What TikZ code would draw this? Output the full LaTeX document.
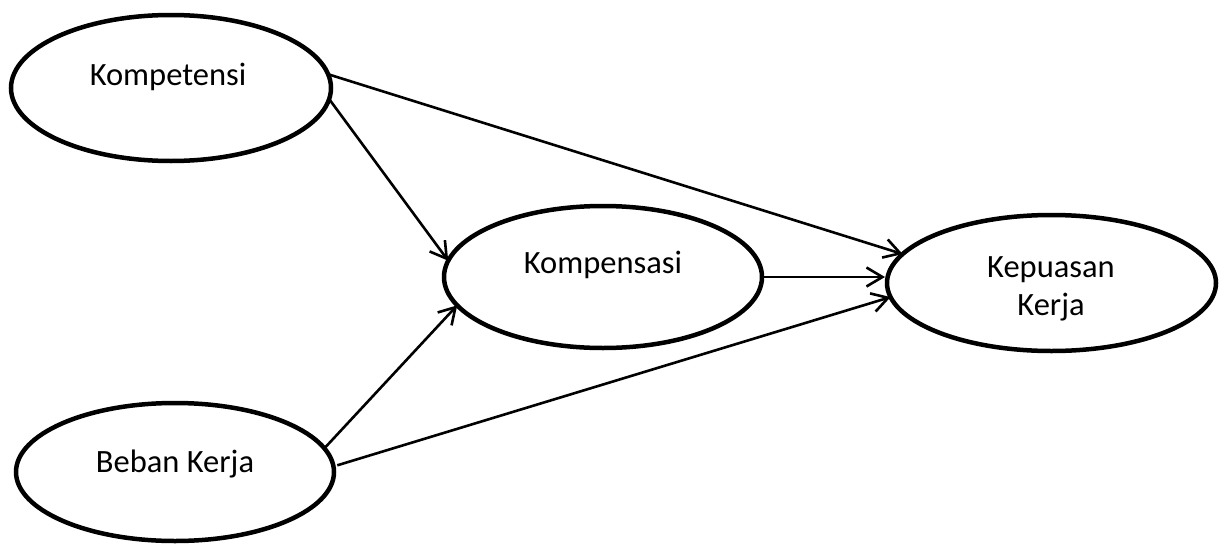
\documentclass[tikz,border=0pt]{standalone}
\usepackage{fontspec}
\setmainfont{Carlito}
\usetikzlibrary{shapes.geometric,arrows.meta}
\begin{document}
\begin{tikzpicture}[x=1pt,y=-1pt,
  ell/.style={draw=black,line width=4.5pt,ellipse,inner sep=0pt,outer sep=0pt},
  lbl/.style={font=\fontsize{32.5}{38}\selectfont,anchor=base,inner sep=0pt,align=center},
  conn/.style={line width=2.6pt,-{Straight Barb[length=16pt,width=19pt,line width=2.6pt]}}]
\useasboundingbox (0,0) rectangle (1221,546);
\node[ell,minimum width=320pt,minimum height=146pt] (kt) at (171,88) {};
\node[ell,minimum width=318pt,minimum height=138pt] (bk) at (175,472) {};
\node[ell,minimum width=318pt,minimum height=142pt] (ks) at (603,277) {};
\node[ell,minimum width=329pt,minimum height=136pt] (kp) at (1051.5,283) {};
\node[lbl] (ktl) at (168,85) {Kompetensi};
\node[lbl] (bkl) at (175,472) {Beban Kerja};
\node[lbl] (ksl) at (603,273) {Kompensasi};
\node[lbl] (kpl1) at (1051,277) {Kepuasan};
\node[lbl] (kpl2) at (1051,315) {Kerja};
\draw[conn] (kt.-4) -- (ks.174);
\draw[conn] (kt.5) -- (kp.169);
\draw[conn] (bk.9) -- (ks.-169.5);
\draw[conn,shorten <=4pt] (bk.2) -- (kp.-175);
\coordinate (kpin) at ([xshift=-2pt]ks.east -| kp.west);
\draw[conn] (ks.east) -- (kpin);
\end{tikzpicture}
\end{document}
